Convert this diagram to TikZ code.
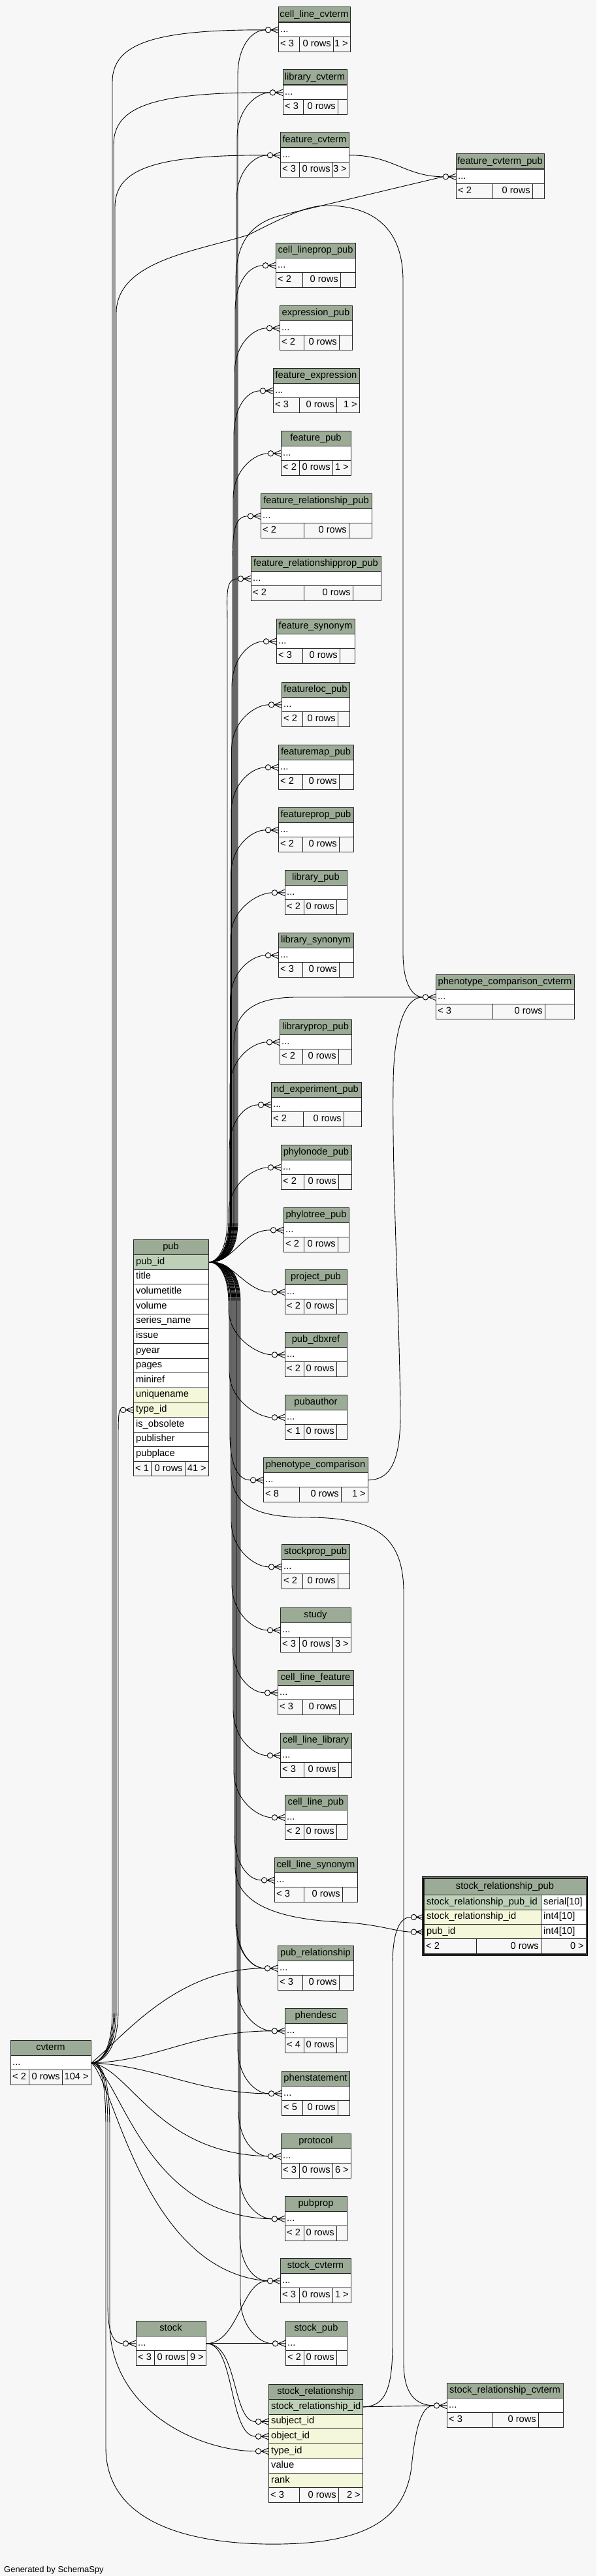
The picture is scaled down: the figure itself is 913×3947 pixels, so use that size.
\documentclass[tikz,border=0pt]{standalone}
\usepackage{fontspec}
\setmainfont{Liberation Sans}
\pgfdeclarelayer{back}
\pgfdeclarelayer{edges}
\pgfsetlayers{back,edges,main}
\definecolor{bgc}{HTML}{F7F7F7}
\definecolor{hdrc}{HTML}{9BAB96}
\definecolor{pkc}{HTML}{BED1B8}
\definecolor{idxc}{HTML}{F4F7DA}
\tikzset{
  txt/.style={inner sep=0pt, font=\fontsize{14.67}{17}\selectfont, text height=10.6pt, text depth=3pt},
  cellb/.style={draw=black!85, line width=1pt},
  rowbox/.style={cellb, fill=white, inner sep=0pt, minimum height=22.65pt, anchor=north west},
  edge/.style={draw=black, line width=0.9pt},
  gen/.style={inner sep=0pt, font=\fontsize{13}{15}\selectfont}
}
% header
\newcommand\thead[4]{\draw[cellb,fill=hdrc] (#1,#3) rectangle (#2,#3+23);
  \node[txt] at ({(#1+#2)/2},#3+11.5) {#4};}
% footer: x1 s1 s2 x2 top lt gt
\newcommand\tfoot[7]{\draw[cellb,fill=bgc] (#1,#5) rectangle (#2,#5+22.65) (#2,#5) rectangle (#3,#5+22.65) (#3,#5) rectangle (#4,#5+22.65);
  \node[txt,anchor=west] at (#1+3,#5+11.3) {#6};
  \node[txt,anchor=east] at (#3-3,#5+11.3) {0 rows};
  \node[txt,anchor=east] at (#4-3,#5+11.3) {#7};}
% column row: name x1 x2 top fill text
\newcommand\colrow[6]{\node[rowbox,fill=#5,minimum width=#3-#2] (#1) at (#2,#4) {};
  \node[txt,anchor=west] at (#2+4,#4+11.3) {#6};}
% simple table: name x1 x2 top title s1 s2 lt gt
\newcommand\stbl[9]{\thead{#2}{#3}{#4}{#5}
  \node[rowbox,minimum width=#3-#2] (#1) at (#2,#4+23) {};
  \node[txt,anchor=west] at (#2+3,#4+34.3) {...};
  \tfoot{#2}{#6}{#7}{#3}{#4+45.65}{#8}{#9}}
% crow's foot with open circle at a row's west side
\newcommand\cfoot[1]{\draw[edge,fill=bgc] ([xshift=-15.5]#1.west) circle[radius=4.2pt];
  \draw[edge] ([yshift=4.8]#1.west) -- ([xshift=-11.3]#1.west) -- ([yshift=-4.8]#1.west) ([xshift=-11.3]#1.west) -- (#1.west);}
% pub edges through the bundle
\newcommand\pubup[3]{\draw[edge] (pubid.east) .. controls (#2-16,1933.5) and (#2,1915) .. (#2,1870) -- (#2,#3+70) .. controls (#2,#3+25) and ([xshift=-40]#1.west) .. ([xshift=-19.7]#1.west);}
\newcommand\pubdn[3]{\draw[edge] (pubid.east) .. controls (#2-16,1933.5) and (#2,1952) .. (#2,1997) -- (#2,#3-70) .. controls (#2,#3-25) and ([xshift=-40]#1.west) .. ([xshift=-19.7]#1.west);}
% cvterm edges going up the left side
\newcommand\cvup[3]{\draw[edge] (cvt.east) .. controls (155,3160) and (#2,3140) .. (#2,3080) -- (#2,#3+80) .. controls (#2,#3+20) and (240,#3) .. ([xshift=-19.7]#1.west);}

\begin{document}
\begin{tikzpicture}[x=1pt,y=-1pt]
\useasboundingbox (0,0) rectangle (913,3947);
\begin{pgfonlayer}{back}
\fill[bgc] (0,0) rectangle (913,3947);
\end{pgfonlayer}

% ---------- simple tables ----------
\stbl{clcv}{426}{536}{11}{cell\_line\_cvterm}{458}{510}{< 3}{1 >}
\stbl{libcv}{433}{531}{107}{library\_cvterm}{464}{517}{< 3}{}
\stbl{fcv}{429}{534}{203}{feature\_cvterm}{458}{509}{< 3}{3 >}
\stbl{fcvp}{698}{833}{236}{feature\_cvterm\_pub}{754}{815}{< 2}{}
\stbl{clpp}{422}{544}{372}{cell\_lineprop\_pub}{463}{521}{< 2}{}
\stbl{exprp}{428}{539}{468}{expression\_pub}{465}{519}{< 2}{}
\stbl{fexpr}{418}{550}{564}{feature\_expression}{458}{515}{< 3}{1 >}
\stbl{fpub}{430}{537}{660}{feature\_pub}{458}{509}{< 2}{1 >}
\stbl{frp}{399}{569}{756}{feature\_relationship\_pub}{465}{534}{< 2}{}
\stbl{frpp}{384}{583}{852}{feature\_relationshipprop\_pub}{465}{540}{< 2}{}
\stbl{fsyn}{423}{543}{948}{feature\_synonym}{463}{520}{< 3}{}
\stbl{flocp}{431}{535}{1045}{featureloc\_pub}{463}{517}{< 2}{}
\stbl{fmapp}{426}{541}{1141}{featuremap\_pub}{463}{519}{< 2}{}
\stbl{fpropp}{426}{541}{1237}{featureprop\_pub}{463}{519}{< 2}{}
\stbl{libp}{436}{531}{1333}{library\_pub}{465}{515}{< 2}{}
\stbl{libsyn}{426}{541}{1429}{library\_synonym}{463}{519}{< 3}{}
\stbl{pcc}{667}{879}{1493}{phenotype\_comparison\_cvterm}{754}{834}{< 3}{}
\stbl{libpp}{428}{538}{1562}{libraryprop\_pub}{463}{518}{< 2}{}
\stbl{ndep}{415}{553}{1658}{nd\_experiment\_pub}{464}{526}{< 2}{}
\stbl{phnp}{430}{538}{1754}{phylonode\_pub}{465}{518}{< 2}{}
\stbl{phtp}{434}{534}{1850}{phylotree\_pub}{465}{517}{< 2}{}
\stbl{projp}{436}{531}{1945}{project\_pub}{465}{515}{< 2}{}
\stbl{pdbx}{436}{531}{2041}{pub\_dbxref}{465}{515}{< 2}{}
\stbl{pauth}{436}{531}{2137}{pubauthor}{465}{515}{< 1}{}
\stbl{pcomp}{403}{563}{2233}{phenotype\_comparison}{458}{522}{< 8}{1 >}
\stbl{stpp}{431}{535}{2366}{stockprop\_pub}{463}{517}{< 2}{}
\stbl{study}{429}{537}{2463}{study}{458}{509}{< 3}{3 >}
\stbl{clf}{425}{541}{2559}{cell\_line\_feature}{463}{519}{< 3}{}
\stbl{cll}{429}{538}{2655}{cell\_line\_library}{465}{518}{< 3}{}
\stbl{clp}{436}{531}{2750}{cell\_line\_pub}{465}{515}{< 2}{}
\stbl{cls}{420}{547}{2846}{cell\_line\_synonym}{465}{524}{< 3}{}
\stbl{prel}{425}{541}{2981}{pub\_relationship}{463}{519}{< 3}{}
\stbl{phend}{436}{531}{3077}{phendesc}{465}{515}{< 4}{}
\stbl{phens}{431}{535}{3173}{phenstatement}{463}{517}{< 5}{}
\stbl{proto}{430}{537}{3269}{protocol}{458}{509}{< 3}{6 >}
\stbl{pprop}{436}{531}{3365}{pubprop}{465}{515}{< 2}{}
\stbl{stcv}{429}{537}{3460}{stock\_cvterm}{458}{509}{< 3}{1 >}
\stbl{stpub}{437}{531}{3556}{stock\_pub}{465}{515}{< 2}{}
\stbl{stk}{208}{315}{3556}{stock}{236}{287}{< 3}{9 >}
\stbl{srcv}{684}{862}{3651}{stock\_relationship\_cvterm}{754}{824}{< 3}{}
\stbl{cvt}{16}{139}{3126}{cvterm}{44}{95}{< 2}{104 >}

% ---------- pub ----------
\thead{204}{319}{1899}{pub}
\colrow{pubid}{204}{319}{1922}{pkc}{pub\_id}
\colrow{pubr1}{204}{319}{1944.65}{white}{title}
\colrow{pubr2}{204}{319}{1967.3}{white}{volumetitle}
\colrow{pubr3}{204}{319}{1989.95}{white}{volume}
\colrow{pubr4}{204}{319}{2012.6}{white}{series\_name}
\colrow{pubr5}{204}{319}{2035.25}{white}{issue}
\colrow{pubr6}{204}{319}{2057.9}{white}{pyear}
\colrow{pubr7}{204}{319}{2080.55}{white}{pages}
\colrow{pubr8}{204}{319}{2103.2}{white}{miniref}
\colrow{pubr9}{204}{319}{2125.85}{idxc}{uniquename}
\colrow{pubtype}{204}{319}{2148.5}{idxc}{type\_id}
\colrow{pubr11}{204}{319}{2171.15}{white}{is\_obsolete}
\colrow{pubr12}{204}{319}{2193.8}{white}{publisher}
\colrow{pubr13}{204}{319}{2216.45}{white}{pubplace}
\tfoot{204}{231}{283}{319}{2239.1}{< 1}{41 >}

% ---------- stock_relationship ----------
\thead{411}{555}{3653}{stock\_relationship}
\colrow{srid}{411}{555}{3676}{pkc}{stock\_relationship\_id}
\colrow{srsub}{411}{555}{3698.65}{idxc}{subject\_id}
\colrow{srobj}{411}{555}{3721.3}{idxc}{object\_id}
\colrow{srtype}{411}{555}{3743.95}{idxc}{type\_id}
\colrow{srval}{411}{555}{3766.6}{white}{value}
\colrow{srrank}{411}{555}{3789.25}{idxc}{rank}
\tfoot{411}{458}{518}{555}{3811.9}{< 3}{2 >}

% ---------- stock_relationship_pub (focus) ----------
\draw[cellb,fill=hdrc] (649,2878) rectangle (897,2903);
\node[txt] (srptitle) at (773,2890.5) {stock\_relationship\_pub};
\colrow{srppk}{649}{828}{2903}{pkc}{stock\_relationship\_pub\_id}
\colrow{srppkt}{828}{897}{2903}{white}{serial[10]}
\colrow{srpsr}{649}{828}{2925.65}{idxc}{stock\_relationship\_id}
\colrow{srpsrt}{828}{897}{2925.65}{white}{int4[10]}
\colrow{srppub}{649}{828}{2948.3}{idxc}{pub\_id}
\colrow{srppubt}{828}{897}{2948.3}{white}{int4[10]}
\tfoot{649}{729}{828}{897}{2970.95}{< 2}{0 >}
\draw[line width=1.3pt, double=black!45, double distance=0.9pt] (647.3,2876.3) rectangle (898.7,2995.3);

% ---------- connectors ----------
\begin{pgfonlayer}{edges}
% pub -> children (upwards)
\pubup{clcv}{364}{45.35}
\pubup{libcv}{363}{141.35}
\pubup{fcv}{362}{237.35}
\draw[edge] (pubid.east) .. controls (345,1933.5) and (361,1915) .. (361,1870) -- (361,430) .. controls (361,370) and (385,342) .. (430,330) -- ([xshift=-19.7]fcvp.west);
\pubup{clpp}{360}{406.35}
\pubup{exprp}{359}{502.35}
\pubup{fexpr}{358}{598.35}
\pubup{fpub}{357}{694.35}
\pubup{frp}{356}{790.35}
\pubup{frpp}{348}{886.35}
\pubup{fsyn}{355}{982.35}
\pubup{flocp}{354.5}{1079.35}
\pubup{fmapp}{354}{1175.35}
\pubup{fpropp}{353.5}{1271.35}
\pubup{libp}{353}{1367.35}
\pubup{libsyn}{352.5}{1463.35}
\draw[edge] (pubid.east) .. controls (342,1933.5) and (358,1915) .. (358,1870) -- (358,1600) .. controls (358,1550) and (390,1529) .. (450,1528) -- ([xshift=-19.7]pcc.west);
\pubup{libpp}{352}{1596.35}
\pubup{ndep}{351}{1692.35}
\pubup{phnp}{350}{1788.35}
\draw[edge] (pubid.east) .. controls (360,1933.5) and (370,1884.35) .. ([xshift=-19.7]phtp.west);
\draw[edge] (pubid.east) .. controls (360,1933.5) and (375,1979.35) .. ([xshift=-19.7]projp.west);
% pub -> children (downwards)
\pubdn{pdbx}{350}{2075.35}
\pubdn{pauth}{351}{2171.35}
\pubdn{pcomp}{352}{2267.35}
\draw[edge] (pubid.east) .. controls (337,1933.5) and (353.5,1952) .. (353.5,1997) -- (353.5,2250) .. controls (353.5,2300) and (380,2325) .. (470,2325) .. controls (570,2325) and (618,2350) .. (618,2440) -- (618,3620) .. controls (618,3668) and (636,3685.35) .. ([xshift=-19.7]srcv.west);
\pubdn{stpp}{354}{2400.35}
\pubdn{study}{355}{2497.35}
\pubdn{clf}{356}{2593.35}
\pubdn{cll}{357}{2689.35}
\pubdn{clp}{358}{2784.35}
\pubdn{cls}{359}{2880.35}
\draw[edge] (pubid.east) .. controls (344,1933.5) and (360,1952) .. (360,1997) -- (360,2860) .. controls (360,2915) and (420,2940) .. (520,2945) .. controls (580,2948) and (605,2959.6) .. ([xshift=-19.7]srppub.west);
\pubdn{prel}{361}{3015.35}
\pubdn{prel}{362.5}{3015.35}
\pubdn{phend}{363}{3111.35}
\pubdn{phens}{364}{3207.35}
\pubdn{proto}{365}{3303.35}
\pubdn{pprop}{366}{3399.35}
\pubdn{stcv}{367}{3494.35}
\pubdn{stpub}{368}{3590.35}
% feature_cvterm -> feature_cvterm_pub
\draw[edge] (fcv.east) .. controls (600,237.35) and (620,270.35) .. ([xshift=-19.7]fcvp.west);
% phenotype_comparison -> phenotype_comparison_cvterm
\draw[edge] (pcomp.east) .. controls (595,2267) and (614,2245) .. (613,2160) .. controls (611,2000) and (600,1800) .. (602,1660) .. controls (603,1570) and (622,1527.35) .. ([xshift=-19.7]pcc.west);
% cvterm -> tables above
\cvup{clcv}{172}{45.35}
\cvup{libcv}{174}{141.35}
\cvup{fcv}{176}{237.35}
\draw[edge] (cvt.east) .. controls (155,3160) and (178,3140) .. (178,3080) -- (178,480) .. controls (178,400) and (300,385) .. (380,360) .. controls (440,330) and (470,315) .. (500,315) .. controls (560,315) and (617,340) .. (617,430) -- (617,1460) .. controls (617,1505) and (630,1527.35) .. ([xshift=-19.7]pcc.west);
\draw[edge] (cvt.east) .. controls (158,3160) and (181,3140) .. (181,3080) -- (181,2200) .. controls (181,2172) and (182,2159.8) .. ([xshift=-19.7]pubtype.west);
% cvterm -> tables on the right
\draw[edge] (cvt.east) .. controls (190,3120) and (270,3015.35) .. ([xshift=-19.7]prel.west);
\draw[edge] (cvt.east) .. controls (240,3158) and (300,3111.35) .. ([xshift=-19.7]phend.west);
\draw[edge] (cvt.east) .. controls (240,3165) and (300,3207.35) .. ([xshift=-19.7]phens.west);
\draw[edge] (cvt.east) .. controls (200,3170) and (240,3300) .. ([xshift=-19.7]proto.west);
\draw[edge] (cvt.east) .. controls (185,3180) and (220,3396) .. ([xshift=-19.7]pprop.west);
\draw[edge] (cvt.east) .. controls (175,3190) and (220,3480) .. ([xshift=-19.7]stcv.west);
\draw[edge] (cvt.east) .. controls (152,3160) and (165,3175) .. (165,3260) -- (165,3530) .. controls (165,3572) and (172,3590.35) .. ([xshift=-19.7]stk.west);
\draw[edge] (cvt.east) .. controls (153,3160) and (168,3175) .. (168,3260) -- (168,3560) .. controls (168,3690) and (300,3755.3) .. ([xshift=-19.7]srtype.west);
\draw[edge] (cvt.east) .. controls (151,3160) and (162,3175) .. (162,3260) -- (162,3750) .. controls (162,3870) and (300,3900) .. (430,3898) .. controls (560,3896) and (620,3860) .. (630,3780) .. controls (636,3720) and (645,3685.35) .. ([xshift=-19.7]srcv.west);
% stock -> children
\draw[edge] (stk.east) .. controls (365,3590.35) and (370,3494.35) .. ([xshift=-19.7]stcv.west);
\draw[edge] (stk.east) -- ([xshift=-19.7]stpub.west);
\draw[edge] (stk.east) .. controls (365,3590.35) and (355,3710) .. ([xshift=-19.7]srsub.west);
\draw[edge] (stk.east) .. controls (360,3590.35) and (350,3732.6) .. ([xshift=-19.7]srobj.west);
% stock_relationship -> children
\draw[edge] (srid.east) -- ([xshift=-19.7]srcv.west);
\draw[edge] (srid.east) .. controls (590,3687.3) and (601,3660) .. (601,3590) -- (601,3010) .. controls (601,2960) and (612,2937) .. ([xshift=-19.7]srpsr.west);
\end{pgfonlayer}

% ---------- crow's feet ----------
\foreach \n in {clcv,libcv,fcv,fcvp,clpp,exprp,fexpr,fpub,frp,frpp,fsyn,flocp,fmapp,fpropp,libp,libsyn,pcc,libpp,ndep,phnp,phtp,projp,pdbx,pauth,pcomp,stpp,study,clf,cll,clp,cls,srpsr,srppub,prel,phend,phens,proto,pprop,stcv,stpub,stk,srsub,srobj,srtype,srcv,pubtype}{\cfoot{\n}}

\node[gen, anchor=south west] (gen) at (6,3944) {Generated by SchemaSpy};
\end{tikzpicture}
\end{document}
